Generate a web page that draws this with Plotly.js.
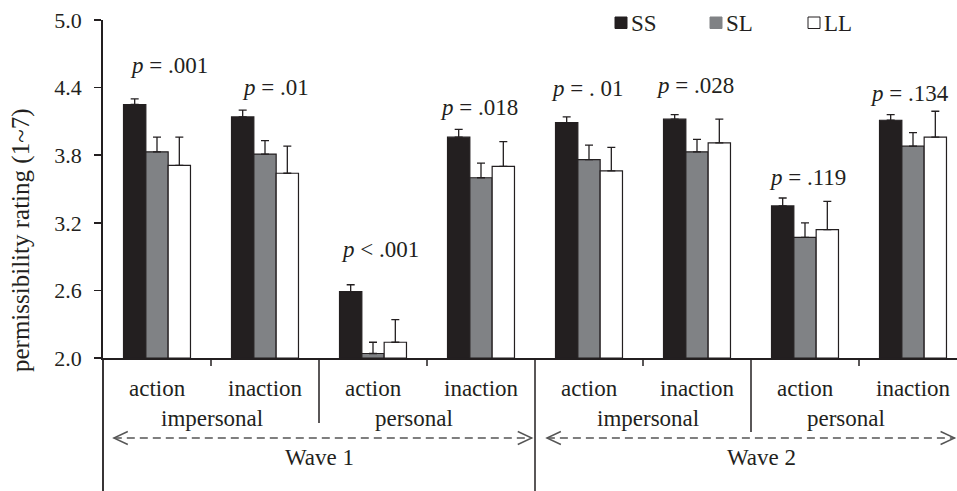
<!DOCTYPE html>
<html>
<head>
<meta charset="utf-8">
<script src="https://cdn.plot.ly/plotly-3.0.1.min.js"></script>
<style>html,body{margin:0;padding:0;background:#fff;} #chart{width:957px;height:491px;}</style>
</head>
<body>
<div id="chart"></div>
<script>
// ---- data ----
const categories = ['action','inaction','action','inaction','action','inaction','action','inaction'];
const conditions = ['impersonal','personal','impersonal','personal'];
const waves = ['Wave 1','Wave 2'];
const seriesNames = ['SS','SL','LL'];
const ssValues = [4.25, 4.14, 2.59, 3.96, 4.09, 4.12, 3.35, 4.11];
const ssErrors = [0.05, 0.06, 0.06, 0.07, 0.05, 0.04, 0.07, 0.05];
const slValues = [3.83, 3.81, 2.04, 3.60, 3.76, 3.83, 3.07, 3.88];
const slErrors = [0.13, 0.12, 0.10, 0.13, 0.13, 0.11, 0.13, 0.12];
const llValues = [3.71, 3.64, 2.14, 3.70, 3.66, 3.91, 3.14, 3.96];
const llErrors = [0.25, 0.24, 0.20, 0.22, 0.21, 0.21, 0.25, 0.23];
const pLabels = ['= .001', '= .01', '&lt; .001', '= .018', '= . 01', '= .028', '= .119', '= .134'];
const yTicks = [2.0, 2.6, 3.2, 3.8, 4.4, 5.0];

// ---- layout helpers ----
const FONT = 'Liberation Serif, Times New Roman, serif';
const INK = '#231f20';
const W = 957, H = 491;
const mL = 103, mR = 0, mT = 20, mB = 133;
const plotW = W - mL - mR, plotH = H - mT - mB;
const catW = 108;
const xRange = [-0.5, -0.5 + plotW / catW];
const yRange = [2.0, 5.0];
const xp = d => (d - xRange[0]) / (xRange[1] - xRange[0]);   // data x -> paper
const xpx = x => (x - mL) / plotW;                              // pixel x -> paper
const ypx = y => (H - mB - y) / plotH;                          // pixel y -> paper
const colors = [INK, '#808285', '#ffffff'];
const values = [ssValues, slValues, llValues];
const errors = [ssErrors, slErrors, llErrors];
const xs = categories.map((c, i) => i);

const traces = seriesNames.map((name, k) => ({
  type: 'bar', name: name, x: xs, y: values[k].map(v => v - yRange[0]), base: yRange[0],
  marker: {color: colors[k], line: {color: INK, width: 1.2}},
  error_y: {type: 'data', symmetric: false, array: errors[k], arrayminus: errors[k].map(() => 0),
            color: INK, thickness: 1.3, width: 4},
  showlegend: false, hoverinfo: 'skip'
}));

const annotations = [];
const shapes = [];
const txt = (text, x, y, size, extra) => Object.assign({
  text: text, x: x, y: y, xref: 'paper', yref: 'paper', showarrow: false,
  xanchor: 'center', yanchor: 'middle', font: {family: FONT, size: size, color: INK}
}, extra || {});

// p-value labels
const pShift = [12, 10, 7, -2, -2, -2, 2, -4];
const pY = [65, 87, 250, 107, 88, 85, 178, 93];
pLabels.forEach((p, i) => {
  annotations.push(txt('<i>p</i> ' + p, xp(i), ypx(pY[i]), 23, {xshift: pShift[i]}));
});

// category labels
categories.forEach((c, i) => annotations.push(txt(c, xp(i), ypx(388), 23)));
const condX = [0.51, 2.38, 4.55, 6.38];
conditions.forEach((c, i) => annotations.push(txt(c, xp(condX[i]), ypx(418), 23)));
const waveX = [1.5, 5.6];
waves.forEach((w, i) => annotations.push(txt(w, xp(waveX[i]), ypx(457), 23)));

// y title
annotations.push(txt('permissibility rating (1~7)', xpx(21), ypx(240), 25, {textangle: -90}));

// separators below axis
const vline = (d, yBottom, w) => shapes.push({type: 'line', xref: 'paper', yref: 'paper',
  x0: xp(d), x1: xp(d), y0: 0, y1: ypx(yBottom), line: {color: INK, width: w}});
vline(-0.5, H + 2, 1.8);
[0.5, 2.5, 4.5, 6.5].forEach(d => vline(d, 366, 1.5));
vline(1.5, 423, 1.5);
vline(5.5, 432, 1.5);
vline(3.5, H + 2, 1.5);

// dashed wave arrows
const arrowY = ypx(438);
const dashed = (a, b) => {
  shapes.push({type: 'line', xref: 'paper', yref: 'paper', x0: xp(a), x1: xp(b), y0: arrowY, y1: arrowY,
    line: {color: '#555', width: 1.4, dash: '8px,5px'}});
};
const chevron = (d, dir) => {
  const x0 = xp(d), dx = dir * 14 / plotW, dy = 6.5 / plotH;
  shapes.push({type: 'path', xref: 'paper', yref: 'paper',
    path: `M ${x0 + dx},${arrowY + dy} L ${x0},${arrowY} L ${x0 + dx},${arrowY - dy}`,
    line: {color: '#555', width: 1.4}});
};
dashed(-0.40, 3.47); chevron(-0.40, 1); chevron(3.47, -1);
dashed(3.61, 7.385); chevron(3.61, 1); chevron(7.385, -1);

// legend (manual)
const legX = [615, 710, 808];
seriesNames.forEach((n, k) => {
  shapes.push({type: 'rect', xref: 'paper', yref: 'paper',
    x0: xpx(legX[k]), x1: xpx(legX[k] + 12), y0: ypx(28.5), y1: ypx(17),
    fillcolor: colors[k], line: {color: k === 1 ? '#808285' : INK, width: 1}});
  annotations.push(txt(n, xpx(legX[k] + 14), ypx(23), 23, {xanchor: 'left'}));
});

const layout = {
  width: W, height: H, margin: {l: mL, r: mR, t: mT, b: mB, pad: 0},
  paper_bgcolor: '#fff', plot_bgcolor: '#fff',
  barmode: 'group', bargap: 0.38, bargroupgap: 0,
  font: {family: FONT, color: INK, size: 22},
  xaxis: {range: xRange, showticklabels: false, ticks: '', showgrid: false, zeroline: false,
          showline: true, linecolor: INK, linewidth: 1.8, fixedrange: true},
  yaxis: {range: yRange, tickvals: yTicks, ticktext: yTicks.map(v => v.toFixed(1)),
          ticks: 'outside', ticklen: 7, tickwidth: 1.5, tickcolor: INK, ticklabelstandoff: 8,
          showgrid: false, zeroline: false, showline: true, linecolor: INK, linewidth: 1.8,
          tickfont: {family: FONT, size: 22, color: INK}, fixedrange: true},
  showlegend: false,
  annotations: annotations, shapes: shapes
};

Plotly.newPlot('chart', traces, layout, {staticPlot: true, displayModeBar: false});
</script>
</body>
</html>
